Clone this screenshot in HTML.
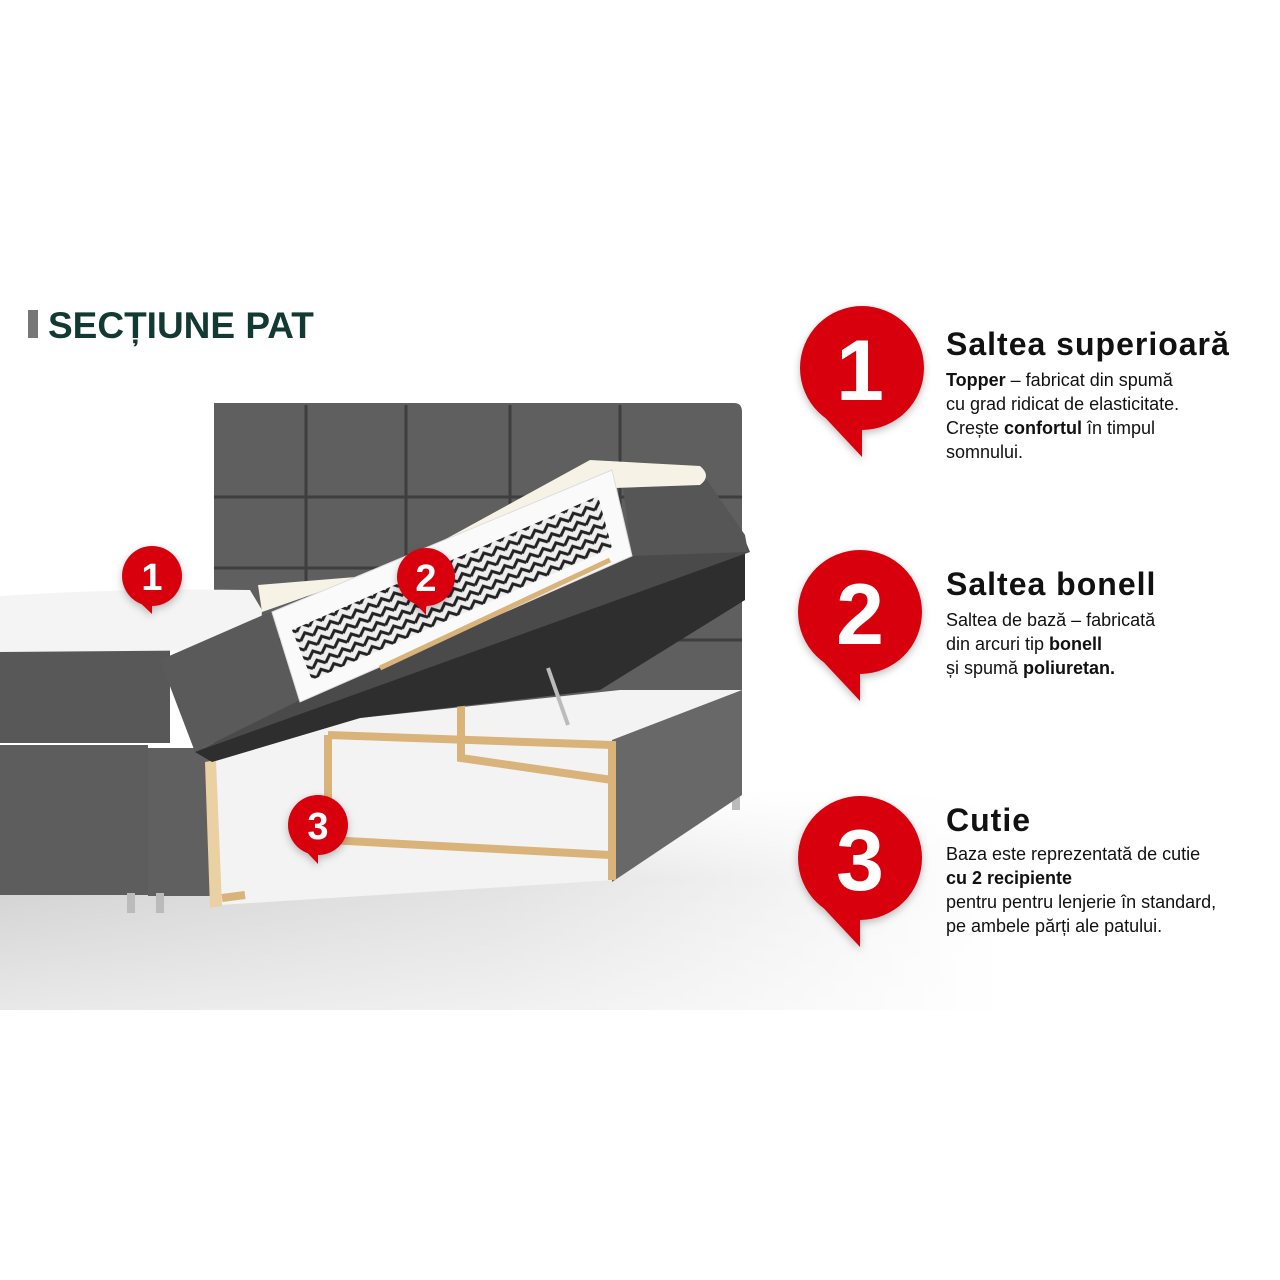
<!DOCTYPE html>
<html><head><meta charset="utf-8"><style>
html,body{margin:0;padding:0;background:#fff;}
body{width:1280px;height:1280px;position:relative;overflow:hidden;font-family:"Liberation Sans","DejaVu Sans",sans-serif;}
.t{position:absolute;left:946px;color:#111;}
.h{font-size:32px;font-weight:bold;letter-spacing:1px;}
.b{font-size:18px;line-height:24px;}
</style></head><body>
<svg width="1280" height="1280" style="position:absolute;left:0;top:0">
<defs>
<linearGradient id="fh" x1="0" y1="0" x2="1" y2="0"><stop offset="0" stop-color="#d2d2d2"/><stop offset="0.5" stop-color="#e2e2e2"/><stop offset="1" stop-color="#fff"/></linearGradient>
<linearGradient id="fv" x1="0" y1="0" x2="0" y2="1"><stop offset="0" stop-color="#fff" stop-opacity="1"/><stop offset="0.4" stop-color="#fff" stop-opacity="0"/><stop offset="1" stop-color="#fff" stop-opacity="0.5"/></linearGradient>
<pattern id="sp" width="14" height="10" patternUnits="userSpaceOnUse" patternTransform="rotate(-24)">
<rect width="14" height="10" fill="#eee"/><path d="M0 8 L7 2 L14 8" stroke="#222" stroke-width="3" fill="none"/></pattern>
<filter id="sh"><feDropShadow dx="0" dy="3" stdDeviation="4" flood-opacity="0.25"/></filter>
</defs>
<rect x="0" y="790" width="1000" height="220" fill="url(#fh)"/>
<rect x="0" y="790" width="1000" height="220" fill="url(#fv)"/>
<!-- headboard -->
<path d="M214 403 H734 Q742 403 742 412 V795 H214 Z" fill="#5f5f5f"/>
<g stroke="#3e3e3e" stroke-width="3">
<line x1="306" y1="405" x2="306" y2="640"/><line x1="406" y1="405" x2="406" y2="640"/>
<line x1="510" y1="405" x2="510" y2="640"/><line x1="620" y1="405" x2="620" y2="640"/>
<line x1="214" y1="497" x2="742" y2="497"/><line x1="214" y1="568" x2="742" y2="568"/>
<line x1="214" y1="640" x2="742" y2="640"/>
</g>
<!-- left bed -->
<rect x="0" y="648" width="170" height="95" fill="#585858"/>
<rect x="0" y="745" width="148" height="150" fill="#5d5d5d"/>
<rect x="148" y="748" width="66" height="148" fill="#606060"/>
<path d="M0 596 Q120 588 250 590 L262 610 L260 650 L0 652 Z" fill="#f4f4f4"/>
<rect x="127" y="893" width="8" height="20" fill="#bbb"/><rect x="156" y="893" width="8" height="20" fill="#bbb"/>
<rect x="732" y="790" width="8" height="20" fill="#bbb"/>
<!-- storage box -->
<path d="M212 762 L360 718 L620 690 L742 690 L742 795 L615 880 L220 905 Z" fill="#f3f3f3"/>
<path d="M612 740 L742 690 L742 795 L612 882 Z" fill="#686868"/>
<path d="M205 762 L216 760 L222 906 L210 908 Z" fill="#e9d1a4"/>
<g stroke="#d9b37a" stroke-width="8" fill="none">
<path d="M328 735 L328 840 L610 855"/><path d="M328 735 L612 745 L612 880"/>
<path d="M461 690 L461 758 L612 780"/><path d="M222 898 L245 895"/>
</g>
<!-- lid underside -->
<path d="M195 752 L745 540 L745 600 L600 690 L360 718 L212 762 Z" fill="#2e2e2e"/>
<line x1="548" y1="668" x2="568" y2="725" stroke="#bbb" stroke-width="4"/>
<!-- lid -->
<path d="M160 660 L270 612 L300 700 L195 752 Z" fill="#5a5a5a"/>
<path d="M300 700 L632 555 L745 540 L750 552 L195 752 Z" fill="#4a4a4a"/>
<path d="M620 465 L700 470 L745 535 L748 552 L632 556 Z" fill="#565656"/>
<!-- topper -->
<path d="M258 585 L380 575 L590 460 L700 466 Q712 476 700 485 L615 488 L262 612 Z" fill="#f6f3e6"/>
<!-- cross-section -->
<path d="M272 612 L612 470 L632 556 L300 702 Z" fill="#fafafa" stroke="#ddd"/>
<path d="M292 630 L598 496 L612 548 L312 680 Z" fill="url(#sp)"/>
<path d="M380 668 L610 560" stroke="#d9b37a" stroke-width="5"/>
<!-- small pins -->
<g filter="url(#sh)">
<circle cx="152" cy="576" r="30" fill="#d90010"/><path d="M133 596 L152 604 L152 614 Z" fill="#d90010"/>
<circle cx="426" cy="577" r="29" fill="#d90010"/><path d="M408 596 L426 603 L426 615 Z" fill="#d90010"/>
<circle cx="318" cy="825" r="30" fill="#d90010"/><path d="M300 845 L318 852 L318 864 Z" fill="#d90010"/>
</g>
<g fill="#fff" font-family="Liberation Sans" font-weight="bold" font-size="38" text-anchor="middle">
<text x="152" y="590">1</text><text x="426" y="591">2</text><text x="318" y="839">3</text>
</g>
<!-- big pins -->
<g filter="url(#sh)">
<circle cx="862" cy="368" r="62" fill="#d90010"/><path d="M818 410 L862 428 L862 457 Z" fill="#d90010"/>
<circle cx="860" cy="612" r="62" fill="#d90010"/><path d="M816 654 L860 672 L860 701 Z" fill="#d90010"/>
<circle cx="860" cy="858" r="62" fill="#d90010"/><path d="M816 900 L860 918 L860 947 Z" fill="#d90010"/>
</g>
<g fill="#fff" font-family="Liberation Sans" font-weight="bold" font-size="86" text-anchor="middle">
<text x="860" y="400">1</text><text x="860" y="644">2</text><text x="860" y="890">3</text>
</g>
<rect x="28" y="310" width="10" height="28" fill="#777"/>
<text x="48" y="338" font-family="Liberation Sans" font-weight="bold" font-size="37" fill="#123a32">SECȚIUNE PAT</text>
</svg>
<div class="t h" style="top:326px">Saltea superioară</div>
<div class="t b" style="top:368px"><b>Topper</b> – fabricat din spumă<br>cu grad ridicat de elasticitate.<br>Crește <b>confortul</b> în timpul<br>somnului.</div>
<div class="t h" style="top:566px">Saltea bonell</div>
<div class="t b" style="top:608px">Saltea de bază – fabricată<br>din arcuri tip <b>bonell</b><br>și spumă <b>poliuretan.</b></div>
<div class="t h" style="top:802px">Cutie</div>
<div class="t b" style="top:842px">Baza este reprezentată de cutie<br><b>cu 2 recipiente</b><br>pentru pentru lenjerie în standard,<br>pe ambele părți ale patului.</div>
</body></html>
